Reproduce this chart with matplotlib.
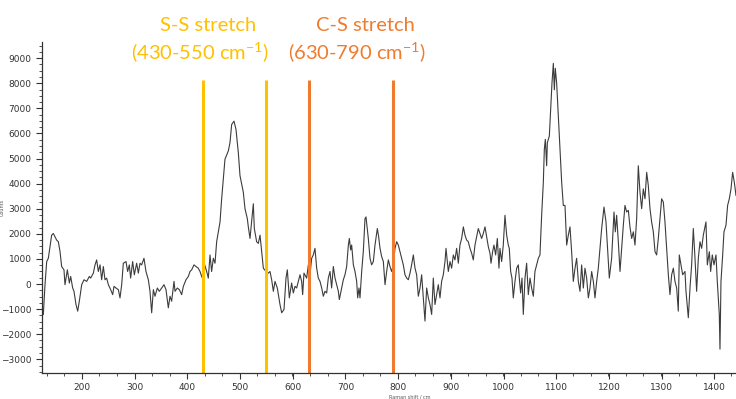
import numpy as np
import matplotlib.pyplot as plt
from matplotlib.ticker import MultipleLocator

plt.rcParams['mathtext.fontset'] = 'custom'
plt.rcParams['mathtext.rm'] = 'Lato'
plt.rcParams['mathtext.default'] = 'regular'

# Raman spectrum (shift in cm-1, counts)
shift = [
    126.6, 129.8, 133.0, 136.1, 142.4, 145.6, 151.9, 155.1, 158.3, 161.4,
    165.8, 167.7, 172.2, 176.0, 178.5, 182.3, 184.8, 188.6, 191.8, 194.9,
    199.4, 203.8, 208.9, 213.9, 216.4, 221.5, 224.7, 227.8, 231.0, 234.2,
    237.3, 240.5, 243.6, 246.8, 250.0, 254.4, 258.2, 260.7, 264.5, 269.0,
    272.1, 275.3, 278.4, 283.5, 286.6, 289.8, 292.3, 296.1, 299.3, 303.7,
    306.9, 310.1, 313.2, 317.6, 321.4, 325.9, 329.0, 332.2, 335.4, 338.5,
    343.0, 346.7, 351.2, 355.6, 359.4,
    363.8, 367.0, 370.1, 374.6, 376.5, 380.9, 384.7, 389.1, 392.3, 397.3,
    401.8, 404.9, 408.1, 412.5, 416.3, 420.7, 423.9, 427.1, 430.2, 432.8,
    436.6, 439.7, 442.9, 446.0, 449.2, 452.4, 455.5, 461.9, 465.0, 468.2,
    471.3, 477.7, 480.8, 484.0, 488.4, 492.2, 496.6, 499.8, 501.7, 506.1,
    509.3, 513.7, 515.6, 518.8, 521.9, 525.1, 527.0, 531.4, 534.6, 537.8,
    540.9, 544.1, 549.1, 553.6, 556.7, 559.9, 563.1, 566.2, 570.6,
    575.7, 578.9, 583.3, 587.1, 589.6, 593.4, 597.8, 601.0, 604.2, 607.3,
    610.5, 613.7, 616.8, 618.7, 621.2, 626.3, 629.5, 632.6, 635.8, 638.9,
    642.1, 645.3, 648.4, 651.6, 654.8, 657.9, 661.1, 664.3, 667.4, 670.6,
    673.7, 676.9, 680.1, 683.2, 686.4, 688.3, 692.7, 695.9, 699.0, 702.2,
    705.4, 707.3, 709.8, 711.7, 714.9, 718.0, 721.2, 723.1, 725.6, 727.5,
    730.7, 733.8, 737.0, 738.9, 743.3, 746.5, 749.6, 752.8, 756.0, 760.4,
    762.9, 765.5, 768.6, 771.8, 775.0, 778.1, 781.3, 784.4, 787.6, 790.8,
    793.9, 797.1, 800.2, 803.4, 806.6, 809.7, 812.9, 816.1, 819.2, 822.4,
    825.5, 828.7, 831.9, 835.0, 838.2, 841.4, 844.5, 847.7, 850.8, 854.0,
    857.2,
    860.3, 863.5, 866.6, 869.8, 873.0, 876.1, 879.3, 882.4, 885.6, 888.8,
    890.7, 895.1, 898.3, 901.4, 904.6, 907.7, 910.9, 914.1, 917.2, 920.4,
    923.6, 926.7, 929.9, 933.0, 936.2, 939.4, 942.5, 945.7, 948.9, 952.0,
    955.2, 958.3, 961.5, 964.7, 967.8, 971.0, 974.2, 976.1, 979.2, 981.7,
    984.9, 988.1, 991.2, 993.1, 996.3, 999.4, 1002.6, 1005.8, 1008.9, 1010.8,
    1013.4, 1015.9, 1018.4, 1021.6, 1024.8, 1027.9, 1029.8, 1032.3, 1034.9, 1037.4,
    1040.6, 1043.7, 1046.9, 1050.1, 1053.2, 1056.4, 1059.5, 1062.7, 1065.9, 1069.0,
    1072.2, 1075.4, 1077.3, 1079.2, 1081.7, 1083.0, 1086.8, 1089.3, 1091.8, 1094.4,
    1096.3, 1098.1, 1100.7, 1103.8, 1107.0, 1110.2, 1113.3, 1116.5, 1119.7, 1122.8,
    1126.0, 1129.1, 1132.3, 1135.5, 1138.6, 1141.8, 1145.0, 1148.1, 1151.3, 1154.4,
    1157.6, 1160.8, 1163.9, 1167.1, 1170.3, 1173.4, 1176.6, 1179.7,
    1182.9, 1186.1, 1190.5, 1194.3, 1198.7, 1200.6, 1205.0, 1209.5, 1212.0, 1214.5,
    1217.7, 1220.9, 1224.0, 1227.2, 1230.3, 1233.5, 1236.7, 1239.8, 1243.0, 1246.2,
    1249.3, 1252.5, 1255.6, 1258.8, 1262.0, 1265.1, 1268.3, 1271.5, 1274.6, 1277.8,
    1280.9, 1284.1, 1287.3, 1290.4, 1293.6, 1296.8, 1299.9, 1303.1, 1306.2, 1309.4,
    1312.6, 1315.7, 1318.9, 1322.1, 1325.2, 1328.4, 1331.5, 1333.4, 1336.6, 1339.8,
    1344.2, 1346.1, 1350.5, 1353.7, 1356.8, 1360.0, 1363.2, 1366.3, 1369.5, 1372.7,
    1375.8, 1379.0, 1384.0, 1386.6, 1390.4, 1392.9, 1396.0, 1399.2, 1403.0, 1405.5,
    1409.3, 1410.6, 1412.5, 1415.7, 1418.2, 1422.0, 1425.1, 1428.3, 1431.5, 1434.6,
    1437.8, 1441.0,
]
counts = [
    -1214, -28, 894, 1025, 1947, 2013, 1750, 1684, 1289, 696,
    564, -28, 564, 37, 301, -160, -292, -818, -1082, -687,
    -28, 169, 104, 301, 235, 433, 762, 960, 498, 762,
    169, 696, 169, 235, -28, -226, -424, -94, -160, -226,
    -555, -28, 828, 894, 498, 762, 235, 894, 367, 828,
    433, 828, 762, 1025, 498, 169, -292, -1148, -226, -489,
    -160, -292, -160, -28, -226,
    -950, -489, -687, 104, -292, -160, -226, -424, -94, 169,
    301, 498, 564, 762, 696, 630, 498, 301, 169, 762,
    498, 235, 1157, 498, 1025, 828, 1684, 2474, 3396, 4186,
    4976, 5306, 5635, 6359, 6491, 6162, 5240, 4318, 4120, 3659,
    3001, 2606, 2276, 1816, 2474, 3198, 2211, 1684, 1618, 1947,
    1289, 630, 498, 433, 498, 169, -292, 104, -160,
    -818, -1147, -1015, 236, 565, -554, 39, -357, -93, -159,
    104, 368, 104, -423, 434, 236, 763, 368, 1026, 1158,
    1421, 631, 236, 104, -159, -488, -291, -357, 236, 499,
    -159, 697, 236, -27, -291, -620, -159, 170, 368, 697,
    1553, 1816, 1355, 1553, 763, 499, 104, -554, -159, -554,
    499, 1290, 2607, 2672, 1816, 1026, 763, 895, 1553, 2211,
    1882, 1421, 1092, 895, -27, 499, 960, 697, 499, 763,
    1421, 1685, 1553, 1290, 1026, 763, 368, 236, 170, 434,
    763, 1158, 631, 368, -488, -159, 368, -554, -1476, -159,
    -554,
    -818, -1213, 236, -818, -423, -27, -554, 104, 368, 895,
    1421, 499, 895, 631, 1158, 960, 1421, 829, 1553, 1816,
    2277, 1948, 1751, 1685, 1421, 1224, 960, 1553, 1882, 2211,
    2014, 1816, 2014, 2277, 1882, 1487, 1224, 829, 1290, 1553,
    1158, 1816, 631, 1421, 895, 1553, 2738, 1948, 1553, 1421,
    499, 236, -554, 104, 631, 763, 236, -357, 236, -1213,
    236, 829, -423, 236, -159, -488, 499, 763, 1026, 1158,
    2737, 4054, 5371, 5766, 4713, 5635, 5898, 6951, 8005, 8795,
    7742, 8598, 8005, 6688, 5371, 4054, 3132, 3132, 1552, 1947,
    2276, 1288, 103, 630, 1025, 103, -292, 761, -160, 630,
    235, -555, -160, 498, 103, -555, 103, 630,
    1421, 2211, 3067, 2475, 894, 236, 1026, 2870, 2080, 2738,
    1684, 499, 1421, 2343, 3133, 2870, 2936, 2277, 1816, 2080,
    1553, 2606, 4714, 3660, 3001, 3792, 3397, 4450, 3923, 3001,
    2475, 2080, 1289, 1158, 1816, 2606, 3397, 3265, 2475, 1421,
    368, -423, 368, 631, 104, -159, -1081, 1158, 763, 368,
    499, -291, -1345, -159, 763, 2211, 1026, -291, 1026, 1684,
    1421, 1948, 2475, 763, 1289, 499, 1158, 763, 1158, 104,
    -1213, -2596, 104, 1158, 2080, 2343, 3133, 3397, 3792, 4450,
    4055, 3528,
]

# marker bands
ss_band = [430, 550]
cs_band = [630, 790]
ss_color = '#FFC000'
cs_color = '#F07B2E'
band_top = 8150

fig = plt.figure(figsize=(7.36, 3.99), dpi=100)
ax = fig.add_axes([0.057, 0.065, 0.943, 0.83])

ax.plot(shift, counts, color='#3c3c3c', lw=0.8)
ax.vlines(ss_band, -3600, band_top, color=ss_color, lw=2.2)
ax.vlines(cs_band, -3600, band_top, color=cs_color, lw=2.2)

ax.set_xlim(124, 1441)
ax.set_ylim(-3550, 9650)
ax.xaxis.set_major_locator(MultipleLocator(100))
ax.xaxis.set_minor_locator(MultipleLocator(33.3))
ax.yaxis.set_major_locator(MultipleLocator(1000))
ax.yaxis.set_minor_locator(MultipleLocator(250))
ax.tick_params(which='major', length=4, width=0.8, labelsize=6.5,
               colors='#333333')
ax.tick_params(which='minor', length=2.5, width=0.6, colors='#333333')
for s in ['top', 'right']:
    ax.spines[s].set_visible(False)
for s in ['left', 'bottom']:
    ax.spines[s].set_color('#333333')
    ax.spines[s].set_linewidth(0.9)

ax.set_xlabel('Raman shift / cm', fontsize=3.5, color='#555555')
ax.set_ylabel('Counts', fontsize=3.5, color='#555555')
ax.xaxis.set_label_coords(0.53, -0.065)
ax.yaxis.set_label_coords(-0.053, 0.5)

fig.text(0.283, 0.937, 'S-S stretch', color=ss_color, fontsize=14.5,
         family='Lato', ha='center', va='center')
fig.text(0.271, 0.870, '(430-550 cm$^{-1}$)', color=ss_color, fontsize=14.5,
         family='Lato', ha='center', va='center')
fig.text(0.496, 0.937, 'C-S stretch', color=cs_color, fontsize=14.5,
         family='Lato', ha='center', va='center')
fig.text(0.485, 0.870, '(630-790 cm$^{-1}$)', color=cs_color, fontsize=14.5,
         family='Lato', ha='center', va='center')

fig.savefig('out.png', dpi=100)
